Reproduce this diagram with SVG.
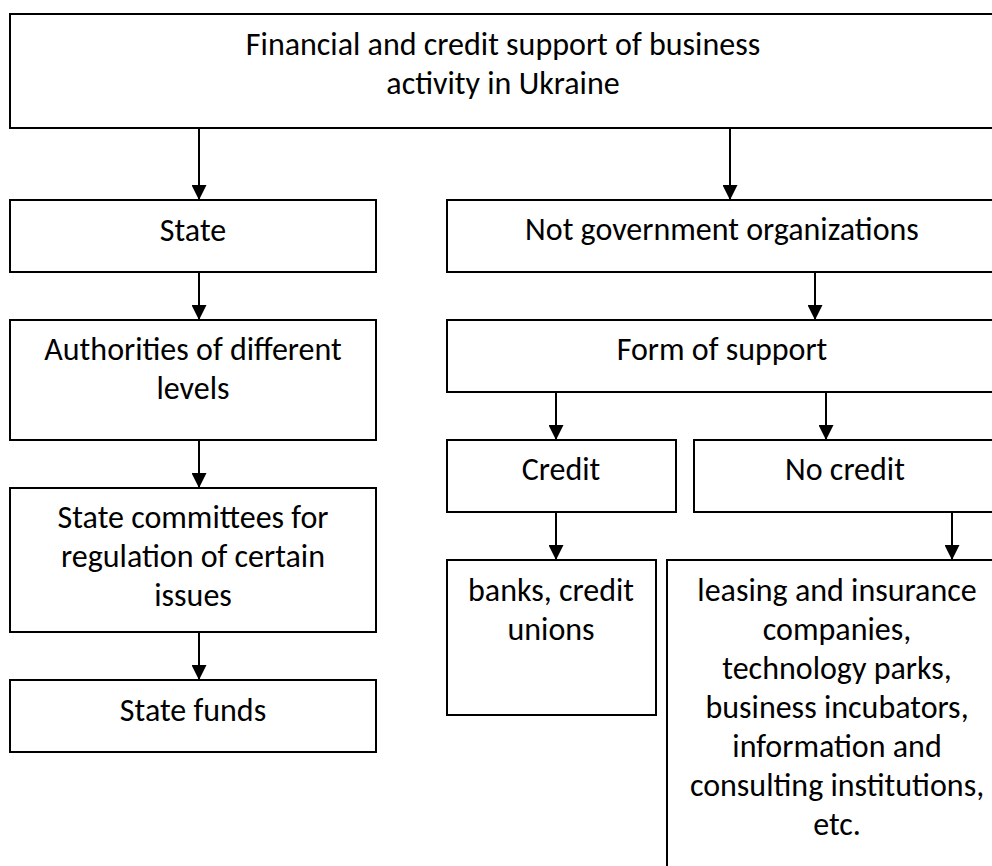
<svg xmlns="http://www.w3.org/2000/svg" width="992" height="866" viewBox="0 0 992 866">
<defs>
<marker id="ah" markerWidth="15" markerHeight="15" viewBox="0 0 15 15" refX="15" refY="7.5" orient="auto" markerUnits="userSpaceOnUse">
<path d="M0,0 L15,7.5 L0,15 Z" fill="#000"/>
</marker>
<style>
.box{fill:#fff;stroke:#000;stroke-width:2}
.t{font-family:Carlito,Lato,"Liberation Sans",sans-serif;font-size:32px;fill:#000;text-anchor:middle}
.c{stroke:#000;stroke-width:2;fill:none;marker-end:url(#ah)}
</style>
</defs>
<rect width="992" height="866" fill="#fff"/>
<g id="root">
<rect class="box" x="10" y="14" width="987" height="114"/>
<text class="t" x="503" y="55">Financial and credit support of business</text>
<text class="t" x="503" y="94">activity in Ukraine</text>
</g>
<g id="state">
<rect class="box" x="10" y="200" width="366" height="72"/>
<text class="t" x="193" y="241">State</text>
</g>
<g id="notgov">
<rect class="box" x="447" y="200" width="550" height="72"/>
<text class="t" x="722" y="240">Not government organizations</text>
</g>
<g id="authorities">
<rect class="box" x="10" y="320" width="366" height="120"/>
<text class="t" x="193" y="360">Authorities of different</text>
<text class="t" x="193" y="399">levels</text>
</g>
<g id="form">
<rect class="box" x="447" y="320" width="550" height="72"/>
<text class="t" x="722" y="360">Form of support</text>
</g>
<g id="credit">
<rect class="box" x="447" y="440" width="229" height="72"/>
<text class="t" x="561" y="480">Credit</text>
</g>
<g id="nocredit">
<rect class="box" x="694" y="440" width="303" height="72"/>
<text class="t" x="845" y="480">No credit</text>
</g>
<g id="committees">
<rect class="box" x="10" y="488" width="366" height="144"/>
<text class="t" x="193" y="528">State committees for</text>
<text class="t" x="193" y="567">regulation of certain</text>
<text class="t" x="193" y="606">issues</text>
</g>
<g id="banks">
<rect class="box" x="447" y="560" width="209" height="155"/>
<text class="t" x="551" y="601">banks, credit</text>
<text class="t" x="551" y="640">unions</text>
</g>
<g id="leasing">
<rect class="box" x="667" y="560" width="340" height="320"/>
<text class="t" x="837" y="601">leasing and insurance</text>
<text class="t" x="837" y="640">companies,</text>
<text class="t" x="837" y="679">technology parks,</text>
<text class="t" x="837" y="718">business incubators,</text>
<text class="t" x="837" y="757">information and</text>
<text class="t" x="837" y="796">consulting institutions,</text>
<text class="t" x="837" y="835">etc.</text>
</g>
<g id="funds">
<rect class="box" x="10" y="680" width="366" height="72"/>
<text class="t" x="193" y="721">State funds</text>
</g>
<g id="connectors">
<line class="c" x1="199" y1="128" x2="199" y2="200"/>
<line class="c" x1="730" y1="128" x2="730" y2="200"/>
<line class="c" x1="199" y1="272" x2="199" y2="320"/>
<line class="c" x1="815" y1="272" x2="815" y2="320"/>
<line class="c" x1="199" y1="440" x2="199" y2="488"/>
<line class="c" x1="556" y1="392" x2="556" y2="440"/>
<line class="c" x1="826" y1="392" x2="826" y2="440"/>
<line class="c" x1="199" y1="632" x2="199" y2="680"/>
<line class="c" x1="556" y1="512" x2="556" y2="560"/>
<line class="c" x1="952" y1="512" x2="952" y2="560"/>
</g>
</svg>
